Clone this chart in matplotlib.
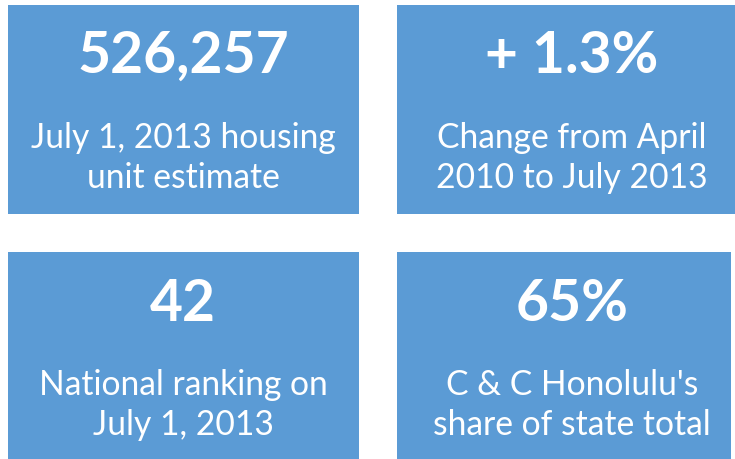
import matplotlib
matplotlib.use("Agg")
import matplotlib.pyplot as plt
from matplotlib.patches import Rectangle

headlines = ["526,257", "+ 1.3%", "42", "65%"]
captions = [
    ["July 1, 2013 housing", "unit estimate"],
    ["Change from April", "2010 to July 2013"],
    ["National ranking on", "July 1, 2013"],
    ["C & C Honolulu's", "share of state total"],
]

# box layout in pixel coordinates (x0, y0, x1, y1)
boxes = [(8, 5, 359, 214), (397, 5, 735, 214), (8, 252, 359, 459), (397, 252, 731, 459)]
text_x = [183, 572, 183, 572]
head_base = [73, 73, 321, 321]
cap_base = [(148, 188), (148, 188), (395, 435), (395, 435)]

W, H = 735, 459
fig = plt.figure(figsize=(W / 100, H / 100), dpi=100)
ax = fig.add_axes([0, 0, 1, 1])
ax.set_xlim(0, W)
ax.set_ylim(H, 0)
ax.axis("off")

color = "#5B9BD5"
font = "Lato"
for (x0, y0, x1, y1), cx, head, cap, hy, cy in zip(boxes, text_x, headlines, captions, head_base, cap_base):
    ax.add_patch(Rectangle((x0, y0), x1 - x0, y1 - y0, facecolor=color, edgecolor="none"))
    ax.text(cx, hy, head, ha="center", va="baseline", color="white",
            fontsize=41, fontweight="bold", family=font)
    for line, yy in zip(cap, cy):
        ax.text(cx, yy, line, ha="center", va="baseline", color="white",
                fontsize=24.2, family=font)

fig.savefig("out.png", dpi=100)
